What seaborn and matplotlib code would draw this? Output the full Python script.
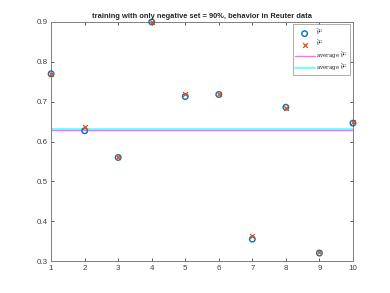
import matplotlib
matplotlib.use("Agg")
import matplotlib.pyplot as plt
import seaborn as sns
import numpy as np
import pandas as pd

sns.set_style("white")
plt.rcParams['font.family'] = ['Liberation Sans', 'DejaVu Sans']
plt.rcParams['mathtext.fontset'] = 'stix'

runs = [1, 2, 3, 4, 5, 6, 7, 8, 9, 10]
theta_l1 = [0.770, 0.627, 0.560, 0.900, 0.713, 0.718, 0.355, 0.686, 0.320, 0.646]
theta_l2 = [0.770, 0.636, 0.560, 0.900, 0.720, 0.718, 0.362, 0.683, 0.322, 0.648]
label_l1 = r"$\hat{\theta}^{L_1}$"
label_l2 = r"$\hat{\theta}^{L_2}$"
title = "training with only negative set = 90%, behavior in Reuter data"

df = pd.DataFrame({"run": runs, "l1": theta_l1, "l2": theta_l2})

fig = plt.figure(figsize=(3.9, 2.93), dpi=100)
ax = fig.add_axes([0.131, 0.109, 0.774, 0.816])

sns.scatterplot(data=df, x="run", y="l1", ax=ax, marker="o", s=16,
                facecolors="none", edgecolor="#0072BD", linewidth=1.0,
                label=label_l1, zorder=3, clip_on=False)
sns.scatterplot(data=df, x="run", y="l2", ax=ax, marker="x", s=12,
                color="#D95319", linewidth=0.9, label=label_l2, zorder=4,
                clip_on=False)
ax.axhline(np.mean(theta_l1), color="#FF66FF", lw=1.0, label="average " + label_l1, zorder=2)
ax.axhline(np.mean(theta_l2), color="#55FFFF", lw=1.2, label="average " + label_l2, zorder=2.1)

ax.set_xlim(1, 10)
ax.set_ylim(0.3, 0.9)
ax.set_xticks(range(1, 11))
ax.set_yticks([0.3, 0.4, 0.5, 0.6, 0.7, 0.8, 0.9])
ax.set_yticklabels(["0.3", "0.4", "0.5", "0.6", "0.7", "0.8", "0.9"])
ax.set_xlabel("")
ax.set_ylabel("")
ax.tick_params(axis="both", labelsize=5.8, colors="#404040", direction="in",
               length=2.5, width=0.6, top=True, right=True, pad=2.5)
ax.tick_params(axis="both", which="both", bottom=True, left=True)
for s in ax.spines.values():
    s.set_color("#7f7f7f")
    s.set_linewidth(0.7)
ax.set_title(title, fontsize=5.45, fontweight="bold", pad=3)

leg = ax.legend(loc="upper right", frameon=True, fancybox=False,
                edgecolor="#888888", borderpad=0.35, handlelength=3.6,
                labelspacing=0.1, handletextpad=0.3, borderaxespad=0.45,
                prop={"family": "serif", "size": 4.0})
leg.get_frame().set_linewidth(0.6)

fig.savefig("out.png", dpi=100)
